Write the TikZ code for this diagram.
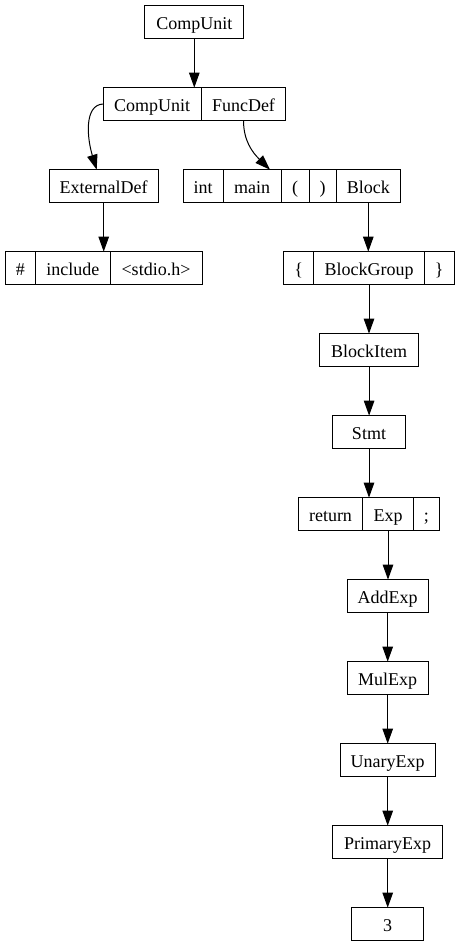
\documentclass[tikz,border=0pt]{standalone}
\usepackage{fontspec}
\setmainfont{Liberation Serif}
\usetikzlibrary{positioning}
\usetikzlibrary{arrows.meta}
\usetikzlibrary{calc}
\newcommand{\cellh}{32.7pt}
\newcommand{\rowa}{22}
\newcommand{\rowb}{104}
\newcommand{\rowc}{186}
\newcommand{\rowd}{268}
\newcommand{\rowe}{350}
\newcommand{\rowf}{432}
\newcommand{\rowg}{514}
\newcommand{\rowh}{596}
\newcommand{\rowi}{678}
\newcommand{\rowj}{760}
\newcommand{\rowk}{842}
\newcommand{\rowl}{924}
\tikzset{
  cell/.style={draw, rectangle, line width=1pt, minimum height=\cellh,
    inner sep=0pt, outer sep=0pt, text height=14.6pt, text depth=0pt,
    font=\fontsize{18}{20}\selectfont},
  edge/.style={line width=1pt, -{Triangle[length=15pt,width=10.5pt]}}
}

\begin{document}
\begin{tikzpicture}[x=1pt, y=-1pt]
    \useasboundingbox (0,0) rectangle (460,947);
    % root
    \node[cell, minimum width=98.7pt] (root) at (194.3,\rowa) {CompUnit};
    % compunit record
    \node[cell, minimum width=98.3pt, anchor=west] (cuone) at (103,\rowb) {CompUnit};
    \node[cell, minimum width=84.4pt, right=0pt of cuone] (funcdef) {FuncDef};
    % left branch
    \node[cell, minimum width=109.3pt] (extdef) at (103.7,\rowc) {ExternalDef};
    \node[cell, minimum width=30.4pt, anchor=west] (hash) at (5.3,\rowd) {\#};
    \node[cell, minimum width=74.3pt, right=0pt of hash] (incl) {include};
    \node[cell, minimum width=92pt, right=0pt of incl] (stdio) {<stdio.h>};
    % funcdef record
    \node[cell, minimum width=40pt, anchor=west] (kwint) at (183,\rowc) {int};
    \node[cell, minimum width=58.3pt, right=0pt of kwint] (fmain) {main};
    \node[cell, minimum width=27.7pt, right=0pt of fmain] (lpar) {(};
    \node[cell, minimum width=27.3pt, right=0pt of lpar] (rpar) {)};
    \node[cell, minimum width=64pt, right=0pt of rpar] (block) {Block};
    % block record
    \node[cell, minimum width=30pt, anchor=west] (lbrace) at (283.7,\rowd) {\{};
    \node[cell, minimum width=110.6pt, right=0pt of lbrace] (bgroup) {BlockGroup};
    \node[cell, minimum width=30pt, right=0pt of bgroup] (rbrace) {\}};
    \node[cell, minimum width=98.3pt] (bitem) at (369.1,\rowe) {BlockItem};
    \node[cell, minimum width=72.6pt] (stmt) at (369,\rowf) {Stmt};
    % stmt record
    \node[cell, minimum width=64.4pt, anchor=west] (kwret) at (298.3,\rowg) {return};
    \node[cell, minimum width=50.6pt, right=0pt of kwret] (expr) {Exp};
    \node[cell, minimum width=26pt, right=0pt of expr] (semi) {;};
    % expression chain
    \node[cell, minimum width=80.7pt] (addexp) at (387.7,\rowh) {AddExp};
    \node[cell, minimum width=81.3pt] (mulexp) at (387.7,\rowi) {MulExp};
    \node[cell, minimum width=95.3pt] (unexp) at (387.7,\rowj) {UnaryExp};
    \node[cell, minimum width=110pt] (primexp) at (387.7,\rowk) {PrimaryExp};
    \node[cell, minimum width=72pt] (three) at (387.7,\rowl) {3};

    % edges
    \draw[edge] (root.south) -- (root.south |- cuone.north);
    \draw[edge] (cuone.west) .. controls (84,105) and (87,138)
      .. ($(extdef.north)+(-7,0)$);
    \draw[edge] (funcdef.south) .. controls ($(funcdef.south)+(0,20)$)
      and (252,152) .. ($(fmain.north)+(17.8,0)$);
    \draw[edge] (extdef.south) -- (extdef.south |- incl.north);
    \draw[edge] (block.south) -- (block.south |- bgroup.north);
    \draw[edge] (bgroup.south) -- (bgroup.south |- bitem.north);
    \draw[edge] (bitem.south) -- (bitem.south |- stmt.north);
    \draw[edge] (stmt.south) -- (stmt.south |- expr.north);
    \draw[edge] (expr.south) -- (expr.south |- addexp.north);
    \draw[edge] (addexp) -- (mulexp);
    \draw[edge] (mulexp) -- (unexp);
    \draw[edge] (unexp) -- (primexp);
    \draw[edge] (primexp) -- (three);
  \end{tikzpicture}
\end{document}
